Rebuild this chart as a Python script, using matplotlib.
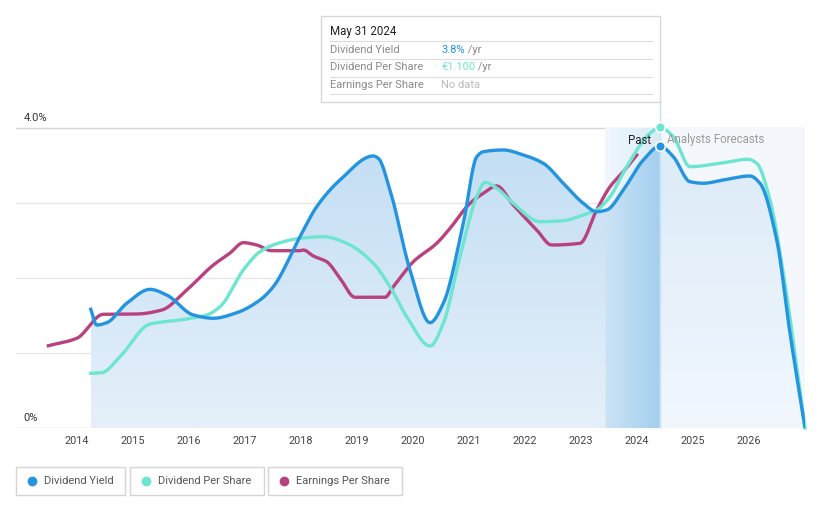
import numpy as np
import matplotlib.pyplot as plt
from matplotlib.patches import Rectangle, Polygon
from matplotlib.colors import LinearSegmentedColormap

plt.rcParams["font.family"] = ["Roboto", "DejaVu Sans"]

# data (year, value on the shared % axis)
dy_years = [2014.245, 2014.352, 2014.53, 2014.888, 2015.304, 2015.602, 2016.077, 2016.434,
            2016.852, 2017.268, 2017.505, 2017.982, 2018.28, 2018.696, 2019.291, 2019.38,
            2019.589, 2019.946, 2020.304, 2020.541, 2020.898, 2021.138, 2021.255, 2021.613,
            2021.97, 2022.327, 2022.684, 2023.041, 2023.28, 2023.459, 2023.755, 2024.113,
            2024.411, 2024.648, 2024.946, 2025.184, 2025.541, 2026.018, 2026.196, 2026.495,
            2026.732, 2027.0]
dy_vals = [1.583, 1.373, 1.404, 1.663, 1.849, 1.773, 1.507, 1.463,
           1.537, 1.707, 1.884, 2.551, 2.951, 3.307, 3.627, 3.596,
           3.173, 2.107, 1.404, 1.663, 2.729, 3.617, 3.684, 3.707,
           3.640, 3.529, 3.263, 2.996, 2.884, 2.907, 3.173, 3.573,
           3.760, 3.617, 3.284, 3.263, 3.307, 3.360, 3.263, 2.507,
           1.263, 0.0]

dps_years = [2014.245, 2014.441, 2014.768, 2015.304, 2015.839, 2016.316, 2016.554, 2016.97,
             2017.268, 2017.625, 2017.982, 2018.398, 2018.816, 2019.291, 2019.589, 2019.888,
             2020.304, 2020.541, 2020.839, 2021.138, 2021.286, 2021.495, 2021.791, 2022.268,
             2022.684, 2023.041, 2023.28, 2023.518, 2023.816, 2024.232, 2024.411, 2024.648,
             2024.946, 2025.541, 2025.988, 2026.138, 2026.375, 2026.613, 2027.0]
dps_vals = [0.729, 0.737, 0.951, 1.387, 1.440, 1.507, 1.617, 2.107,
            2.351, 2.471, 2.529, 2.551, 2.463, 2.196, 1.884, 1.484,
            1.093, 1.396, 2.284, 3.084, 3.276, 3.196, 2.996, 2.751,
            2.764, 2.840, 2.907, 3.084, 3.484, 3.929, 4.009, 3.884,
            3.484, 3.537, 3.583, 3.529, 3.040, 2.063, 0.0]

eps_years = [2013.488, 2013.995, 2014.47, 2015.066, 2015.513, 2015.959, 2016.434, 2016.732,
             2016.97, 2017.209, 2017.477, 2017.982, 2018.041, 2018.22, 2018.459, 2018.696,
             2018.964, 2019.5, 2019.648, 2020.005, 2020.423, 2020.661, 2021.018, 2021.255,
             2021.495, 2021.791, 2022.209, 2022.477, 2022.982, 2023.28, 2023.518, 2023.755,
             2023.995]
eps_vals = [1.097, 1.196, 1.516, 1.520, 1.573, 1.840, 2.173, 2.333,
            2.471, 2.440, 2.364, 2.364, 2.373, 2.293, 2.217, 1.996,
            1.743, 1.743, 1.884, 2.217, 2.463, 2.663, 2.996, 3.129,
            3.227, 2.973, 2.640, 2.440, 2.463, 2.907, 3.217, 3.417,
            3.640]

tick_years = list(range(2014, 2027))
legend_names = ["Dividend Yield", "Dividend Per Share", "Earnings Per Share"]

BLUE = "#2394df"
TEAL = "#6de5d1"
PINK = "#b8427f"

W, H = 821, 508
fig = plt.figure(figsize=(W / 100, H / 100), dpi=100)

x0, x1 = 2012.91, 2027.0
ytop = (428 - 100) / 75
ax = fig.add_axes([16 / W, 1 - 428 / H, (805 - 16) / W, (428 - 100) / H])
ax.set_xlim(x0, x1)
ax.set_ylim(0, ytop)
ax.axis("off")


def pchip(xs, ys, n=900):
    xs = np.asarray(xs, float)
    ys = np.asarray(ys, float)
    h = np.diff(xs)
    d = np.diff(ys) / h
    m = np.zeros_like(ys)
    for k in range(1, len(xs) - 1):
        if d[k - 1] * d[k] > 0:
            w1 = 2 * h[k] + h[k - 1]
            w2 = h[k] + 2 * h[k - 1]
            m[k] = (w1 + w2) / (w1 / d[k - 1] + w2 / d[k])
    m[0] = d[0]
    m[-1] = d[-1]
    t = np.linspace(xs[0], xs[-1], n)
    i = np.clip(np.searchsorted(xs, t) - 1, 0, len(xs) - 2)
    s = (t - xs[i]) / h[i]
    out = ((2 * s**3 - 3 * s**2 + 1) * ys[i] + (s**3 - 2 * s**2 + s) * h[i] * m[i]
           + (-2 * s**3 + 3 * s**2) * ys[i + 1] + (s**3 - s**2) * h[i] * m[i + 1])
    return t, out


past_x0, now_x = 2023.43, 2024.41

# gridlines
for v in [0, 1, 2, 3, 4]:
    ax.axhline(v, color="#d6d6d6" if v in (0, 4) else "#e6e6e6", lw=1, zorder=0)

# forecast background and past band
ax.add_patch(Rectangle((now_x, 0), x1 - now_x, 4, color="#f4f8fd", lw=0, zorder=0.5))
hgrad = np.linspace(0, 1, 100).reshape(1, -1)
cm_band = LinearSegmentedColormap.from_list("b", ["#f1f7fd", "#d9eaf8"])
ax.imshow(hgrad, extent=[past_x0, now_x, 0, 4], aspect="auto", cmap=cm_band, zorder=0.6)

tx, ty = pchip(dy_years, dy_vals)
px, py = pchip(dps_years, dps_vals)
ex, ey = pchip(eps_years, eps_vals)


def area(sel):
    xs, ys = tx[sel], ty[sel]
    pts = np.column_stack([np.r_[xs, xs[-1], xs[0]], np.r_[ys, 0, 0]])
    return Polygon(pts, closed=True, transform=ax.transData, fc="none", ec="none")


vgrad = np.linspace(0, 1, 200).reshape(-1, 1)
# history fill
p1 = area(tx <= now_x)
ax.add_patch(p1)
cm_fill = LinearSegmentedColormap.from_list("f", ["#e5f0fa", "#c3def4"])
im1 = ax.imshow(vgrad, extent=[dy_years[0], now_x, 0, 3.8], origin="lower",
                aspect="auto", cmap=cm_fill, zorder=1)
im1.set_clip_path(p1)
# forecast fill
p2 = area(tx >= now_x)
ax.add_patch(p2)
cm_fc = LinearSegmentedColormap.from_list("g", ["#f1f7fd", "#dcebf8"])
im2 = ax.imshow(vgrad, extent=[now_x, x1, 0, 3.8], origin="lower",
                aspect="auto", cmap=cm_fc, zorder=1)
im2.set_clip_path(p2)
# past band fill
p3 = area((tx >= past_x0) & (tx <= now_x))
ax.add_patch(p3)
cm_pf = LinearSegmentedColormap.from_list("p", ["#cde3f5", "#a3cfef"])
im3 = ax.imshow(hgrad, extent=[past_x0, now_x, 0, 4], aspect="auto", cmap=cm_pf, zorder=1.1)
im3.set_clip_path(p3)

# lines
ax.plot(ex, ey, color=PINK, lw=2.4, zorder=3)
ax.plot(px, py, color=TEAL, lw=2.4, zorder=3, clip_on=False)
ax.plot(tx, ty, color=BLUE, lw=2.4, zorder=4)

ax.plot([now_x], [np.interp(now_x, tx, ty)], "o", color=BLUE, ms=7, mec="white", mew=1.2, zorder=6)
ax.plot([now_x], [np.interp(now_x, px, py)], "o", color=TEAL, ms=7, mec="white", mew=1.2,
        zorder=6, clip_on=False)

ax.plot([now_x, now_x], [0, ytop], color="#c6e0f5", lw=1, zorder=2, clip_on=False)

ax.text(now_x - 0.15, 3.84, "Past", ha="right", va="center", fontsize=8.3, color="#222222", zorder=7)
ax.text(now_x + 0.13, 3.84, "Analysts Forecasts", ha="left", va="center", fontsize=8.3,
        color="#9a9a9a", zorder=7)

# y labels
ax.text(x0 + 0.14, 4.07, "4.0%", ha="left", va="bottom", fontsize=8, color="#333333")
ax.text(x0 + 0.14, 0.07, "0%", ha="left", va="bottom", fontsize=8, color="#333333")

# x labels
for yr in tick_years:
    ax.text(yr, -0.18, str(yr), ha="center", va="center", fontsize=7.8, color="#444444")

# tooltip
tip = fig.add_axes([0, 0, 1, 1])
tip.set_xlim(0, W)
tip.set_ylim(H, 0)
tip.axis("off")
tip.add_patch(Rectangle((321, 16), 339, 86, facecolor="white", edgecolor="#d8d8d8", lw=1, zorder=1))
for yy in [41, 59, 77, 94]:
    tip.plot([330, 652], [yy, yy], color="#dddddd", lw=0.8, zorder=2)
tip.text(330, 31, "May 31 2024", fontsize=8.3, color="#222222", va="center", zorder=3)
rows = [("Dividend Yield", "3.8%", BLUE), ("Dividend Per Share", "€1.100", TEAL),
        ("Earnings Per Share", None, None)]
for i, (lab, val, c) in enumerate(rows):
    yy = 50 + i * 17.5
    tip.text(330, yy, lab, fontsize=8, color="#8a8a8a", va="center", zorder=3)
    if val is None:
        tip.text(441, yy, "No data", fontsize=8, color="#bbbbbb", va="center", zorder=3)
    else:
        t = tip.text(441, yy, val, fontsize=8, color=c, va="center", zorder=3)
        tip.annotate(" /yr", xycoords=t, xy=(1, 0.5), va="center", fontsize=8, color="#8a8a8a")

# legend boxes
boxes = [(16, 125), (130, 264), (268, 402)]
for (bx0, bx1), name, c in zip(boxes, legend_names, [BLUE, TEAL, PINK]):
    tip.add_patch(Rectangle((bx0, 467), bx1 - bx0, 28, facecolor="white", edgecolor="#d5d5d5", lw=1))
    tip.plot([bx0 + 16], [481], "o", color=c, ms=6)
    tip.text(bx0 + 28, 481, name, fontsize=8, color="#555555", va="center")

fig.savefig("out.png", dpi=100)
